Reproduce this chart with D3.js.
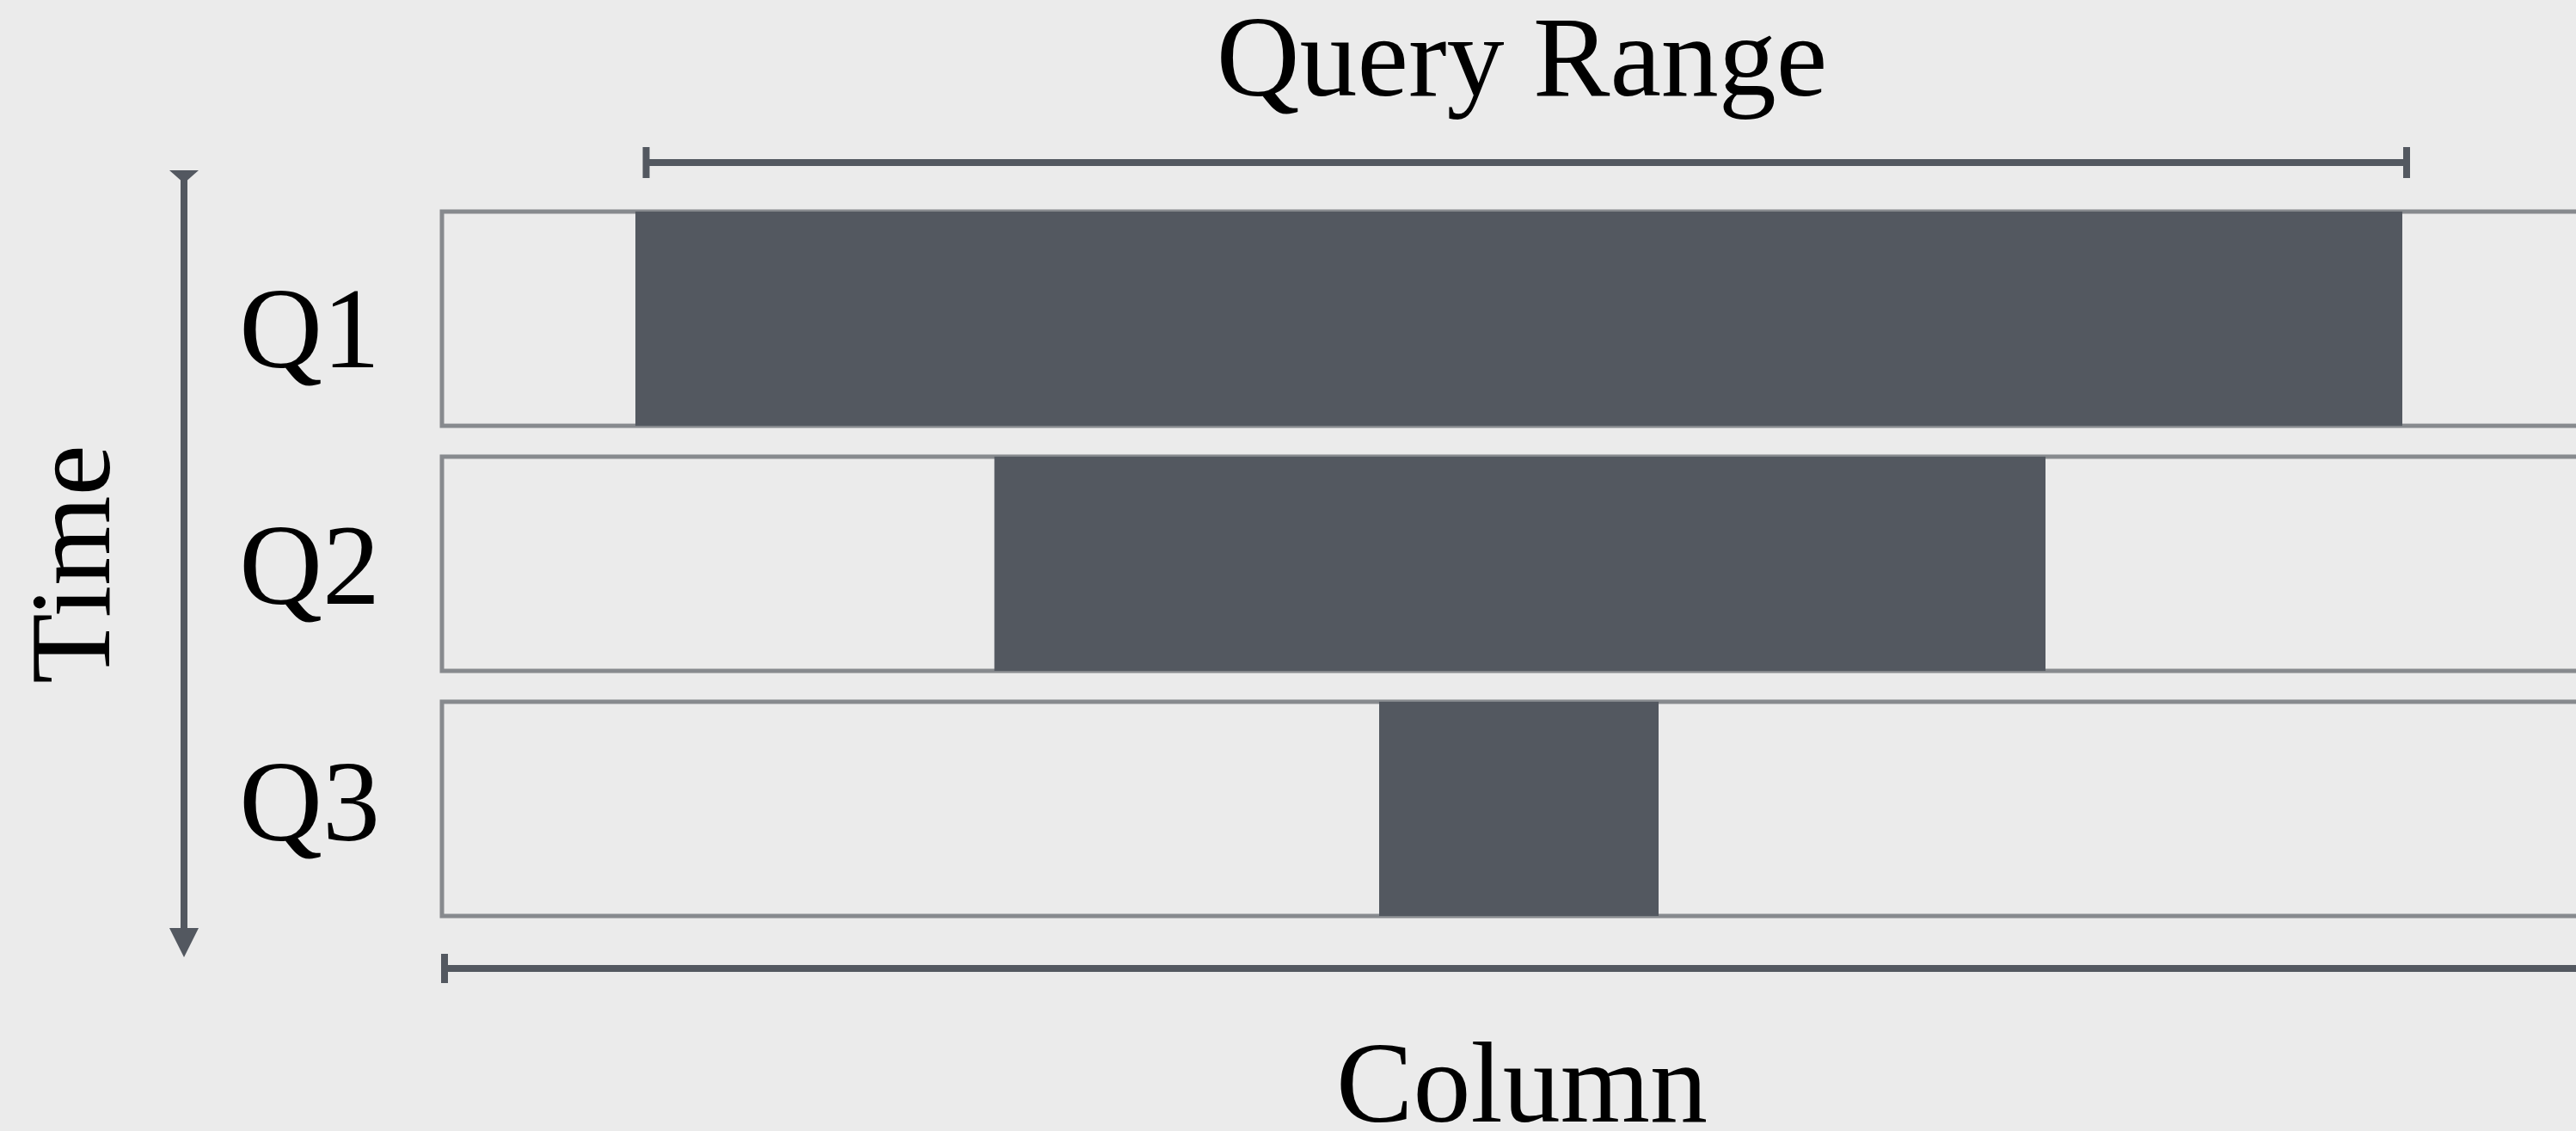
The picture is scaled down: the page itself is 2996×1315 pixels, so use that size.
<!DOCTYPE html>
<meta charset="utf-8">
<script src="https://d3js.org/d3.v7.min.js"></script>
<style>
  body { margin: 0; background: #ebebeb; }
  text { font-family: "Liberation Serif", "Times New Roman", serif; fill: #000; }
</style>
<div id="my_dataviz"></div>
<script>

// queries, in time order, with the column range each one reads
var queries = ["Q1", "Q2", "Q3"]
var rangeStart = [9.0, 25.7, 43.6]
var rangeEnd = [91.2, 74.6, 56.6]
// the bracketed query range on top
var queryRange = [9.5, 91.4]

var width = 2996,
    height = 1315

var dark = "#535860",
    outline = "#878a8e"

var svg = d3.select("#my_dataviz")
  .append("svg")
    .attr("width", width)
    .attr("height", height)

// column position -> pixels (the column runs off the right edge)
var x = d3.scaleLinear()
  .domain([0, 100])
  .range([514, 3014])

// one row per query
var y = d3.scaleBand()
  .domain(queries)
  .range([246, 1065])
  .paddingInner(0.126)

// label baselines
var yLabel = d3.scalePoint()
  .domain(queries)
  .range([427, 977])

var rows = queries.map(function(q, i) {
  return {q: q, start: rangeStart[i], end: rangeEnd[i]}
})

// empty column strips
svg.selectAll("rect.strip")
  .data(rows)
  .enter()
  .append("rect")
    .attr("class", "strip")
    .attr("x", x(0))
    .attr("y", function(d) { return y(d.q) })
    .attr("width", x(100) - x(0) + 200)
    .attr("height", y.bandwidth())
    .attr("fill", "#ebebeb")
    .attr("stroke", outline)
    .attr("stroke-width", 5)

// the part each query reads
svg.selectAll("rect.range")
  .data(rows)
  .enter()
  .append("rect")
    .attr("class", "range")
    .attr("x", function(d) { return x(d.start) })
    .attr("y", function(d) { return y(d.q) })
    .attr("width", function(d) { return x(d.end) - x(d.start) })
    .attr("height", y.bandwidth())
    .attr("fill", dark)

// query labels
svg.selectAll("text.qlabel")
  .data(rows)
  .enter()
  .append("text")
    .attr("class", "qlabel")
    .attr("x", 442)
    .attr("y", function(d) { return yLabel(d.q) })
    .attr("text-anchor", "end")
    .style("font-size", "134px")
    .text(function(d) { return d.q })

// query range bracket
var qy = 189
svg.append("line")
  .attr("x1", x(queryRange[0])).attr("x2", x(queryRange[1]))
  .attr("y1", qy).attr("y2", qy)
  .attr("stroke", dark).attr("stroke-width", 8)
svg.selectAll("line.qtick")
  .data(queryRange)
  .enter()
  .append("line")
    .attr("class", "qtick")
    .attr("x1", function(d) { return x(d) })
    .attr("x2", function(d) { return x(d) })
    .attr("y1", qy - 18).attr("y2", qy + 18)
    .attr("stroke", dark).attr("stroke-width", 8)

svg.append("text")
  .attr("x", 1770)
  .attr("y", 111)
  .attr("text-anchor", "middle")
  .style("font-size", "134px")
  .text("Query Range")

// column bracket at the bottom
var cy = 1126
svg.append("line")
  .attr("x1", x(0)).attr("x2", width + 10)
  .attr("y1", cy).attr("y2", cy)
  .attr("stroke", dark).attr("stroke-width", 8)
svg.append("line")
  .attr("x1", x(0) + 3).attr("x2", x(0) + 3)
  .attr("y1", cy - 17).attr("y2", cy + 17)
  .attr("stroke", dark).attr("stroke-width", 8)

svg.append("text")
  .attr("x", 1770)
  .attr("y", 1304)
  .attr("text-anchor", "middle")
  .style("font-size", "134px")
  .text("Column")

// time arrow on the left
var ax = 214, aTop = 198, aBot = 1113
svg.append("line")
  .attr("x1", ax).attr("x2", ax)
  .attr("y1", aTop + 10).attr("y2", aBot - 30)
  .attr("stroke", dark).attr("stroke-width", 8)
svg.append("path")
  .attr("d", "M" + (ax - 17) + "," + aTop + "L" + (ax + 17) + "," + aTop + "L" + ax + "," + (aTop + 15) + "Z")
  .attr("fill", dark)
svg.append("path")
  .attr("d", "M" + (ax - 17) + "," + (aBot - 34) + "L" + (ax + 17) + "," + (aBot - 34) + "L" + ax + "," + aBot + "Z")
  .attr("fill", dark)

svg.append("text")
  .attr("transform", "translate(127,656) rotate(-90)")
  .attr("text-anchor", "middle")
  .style("font-size", "134px")
  .text("Time")

</script>
